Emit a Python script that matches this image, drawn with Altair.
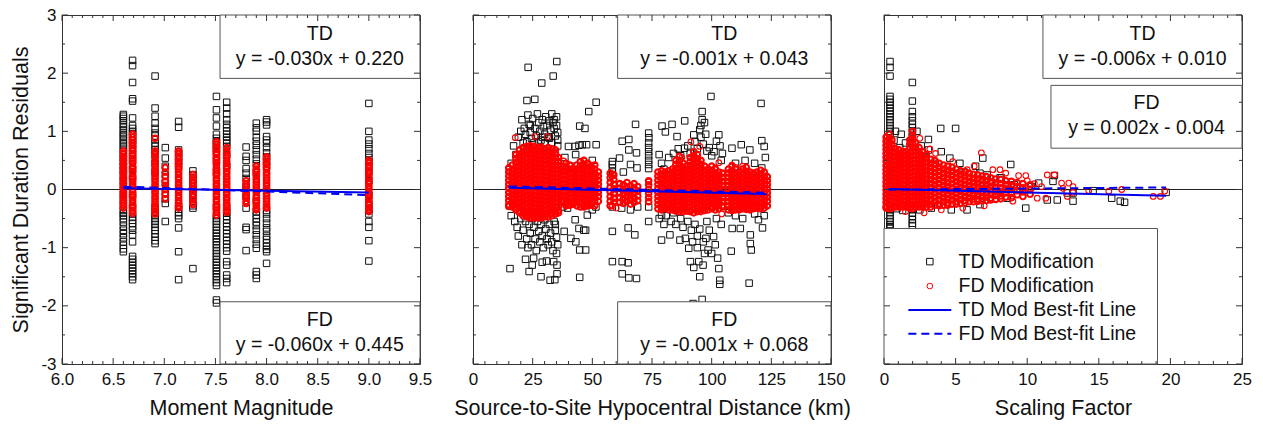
import altair as alt
import pandas as pd

FONT = "Liberation Sans"
W, H = 358, 349

# ---------------- Panel 1: Moment Magnitude ----------------
MAG_COLS = [6.60, 6.69, 6.91, 7.01, 7.14, 7.28, 7.51, 7.61, 7.80, 7.90, 8.00, 9.00]
MAG_TD_Y = [
    "1.29 1.26 1.22 1.18 1.12 1.08 1.03 0.98 0.94 0.90 0.85 0.80 0.76 0.71 0.66 0.60 0.54 0.47 0.40 0.33 0.25 0.15 0.05 -0.08 -0.18 -0.28 -0.36 -0.41 -0.45 -0.50 -0.56 -0.63 -0.70 -0.76 -0.83 -0.90 -0.96 -1.02 -1.07",
    "2.22 2.13 1.84 1.56 1.52 1.23 1.10 1.05 1.00 0.96 0.90 0.84 0.78 0.70 0.60 0.50 0.35 0.20 -0.10 -0.30 -0.42 -0.48 -0.53 -0.58 -0.64 -0.70 -0.78 -0.90 -1.15 -1.20 -1.25 -1.30 -1.35 -1.40 -1.45 -1.50 -1.55",
    "1.95 1.40 1.26 1.14 1.05 0.97 0.92 0.86 0.80 0.74 0.68 0.60 0.45 0.30 -0.30 -0.40 -0.45 -0.50 -0.55 -0.60 -0.65 -0.70 -0.76 -0.82 -0.88 -0.93",
    "0.72 0.54 0.40 0.25 0.12 -0.05 -0.16 -0.24 -0.55",
    "1.17 1.07 0.68 0.62 0.55 0.48 0.40 -0.28 -0.34 -0.40 -0.45 -0.50 -0.66 -1.07 -1.55",
    "0.32 0.25 0.18 0.10 0.00 -0.10 -0.20 -0.28 -0.32 -1.36",
    "1.60 1.37 1.23 1.09 0.95 0.88 0.82 0.76 0.70 0.62 0.50 0.30 -0.30 -0.45 -0.50 -0.55 -0.60 -0.65 -0.70 -0.75 -0.80 -0.85 -0.90 -0.95 -1.00 -1.05 -1.10 -1.15 -1.20 -1.25 -1.30 -1.35 -1.40 -1.45 -1.50 -1.55 -1.60 -1.65 -1.90 -1.95",
    "1.50 1.40 1.30 1.20 1.12 1.06 1.00 0.95 0.90 0.85 0.80 0.74 0.60 0.40 -0.30 -0.40 -0.46 -0.52 -0.58 -0.64 -0.70 -0.76 -0.82 -0.88 -0.94 -1.00 -1.06 -1.24 -1.30 -1.47 -1.53 -1.60",
    "0.73 0.57 0.50 0.36 0.28 0.19 0.05 -0.12 -0.32 -0.65 -0.69 -1.05",
    "1.14 1.06 1.00 0.90 0.83 0.76 0.68 0.60 0.52 0.44 0.30 -0.20 -0.38 -0.44 -0.50 -0.56 -0.62 -0.70 -0.78 -0.86 -0.94 -1.01 -1.41 -1.47 -1.53",
    "1.20 1.16 1.11 0.91 0.85 0.80 0.72 0.63 0.56 0.48 0.40 -0.36 -0.42 -0.50 -0.58 -0.66 -0.72 -0.80 -0.86 -0.92 -0.98 -1.03 -1.07 -1.27",
    "1.48 1.00 0.85 0.78 0.70 0.62 0.55 0.48 0.40 0.30 0.15 -0.10 -0.25 -0.35 -0.42 -0.55 -0.65 -0.88 -1.23",
]
MAG_FD_Y = [
    "0.66 0.62 0.57 0.54 0.50 0.45 0.42 0.38 0.33 0.30 0.26 0.21 0.18 0.14 0.10 0.06 0.02 -0.02 -0.06 -0.10 -0.14 -0.19 -0.23 -0.27 -0.32",
    "0.95 0.90 0.85 0.80 0.76 0.71 0.67 0.62 0.58 0.53 0.49 0.45 0.40 0.36 0.31 0.27 0.22 0.18 0.13 0.09 0.05 0.00 -0.04 -0.09 -0.13 -0.18 -0.22 -0.27 -0.31 -0.36 -0.41",
    "0.88 0.66 0.62 0.57 0.53 0.48 0.44 0.40 0.35 0.31 0.27 0.22 0.18 0.14 0.09 0.05 0.01 -0.03 -0.07 -0.12 -0.16 -0.20 -0.25 -0.29 -0.33 -0.38 -0.42",
    "0.38 0.30 0.22 0.14 0.07 0.00 -0.08 -0.16",
    "0.66 0.62 0.57 0.53 0.48 0.44 0.39 0.35 0.30 0.26 0.21 0.17 0.12 0.08 0.04 -0.01 -0.05 -0.10 -0.14 -0.19 -0.23 -0.28 -0.32",
    "0.26 0.21 0.16 0.11 0.06 0.02 -0.03 -0.08 -0.13 -0.18 -0.23 -0.26",
    "0.82 0.78 0.73 0.69 0.64 0.60 0.55 0.51 0.46 0.42 0.37 0.33 0.28 0.24 0.19 0.15 0.10 0.06 0.01 -0.03 -0.08 -0.12 -0.17 -0.21 -0.26 -0.30 -0.35 -0.39 -0.44",
    "0.72 0.67 0.63 0.58 0.54 0.49 0.45 0.40 0.36 0.31 0.27 0.22 0.18 0.13 0.09 0.04 0.00 -0.05 -0.09 -0.14 -0.18 -0.23 -0.27 -0.32 -0.36 -0.39",
    "0.15 0.10 0.05 0.00 -0.05 -0.10 -0.15 -0.20 -0.24",
    "0.40 0.35 0.31 0.26 0.22 0.17 0.13 0.08 0.04 -0.01 -0.05 -0.10 -0.14 -0.19 -0.23 -0.28 -0.32 -0.35",
    "0.56 0.52 0.47 0.43 0.38 0.34 0.29 0.25 0.20 0.16 0.11 0.07 0.02 -0.02 -0.07 -0.11 -0.16 -0.20 -0.25 -0.29 -0.32",
    "0.50 0.46 0.41 0.37 0.32 0.28 0.23 0.19 0.14 0.10 0.05 0.01 -0.04 -0.08 -0.13 -0.17 -0.22 -0.26 -0.31 -0.35 -0.38",
]
MAG_FIT_X = [6.6, 9.0]
MAG_FIT_TD = [0.022, -0.050]
MAG_FIT_FD = [0.049, -0.095]

# ---------------- Panel 2: Hypocentral distance ----------------
DIST_TD = [
    (23.1, 2.10), (35.1, 2.20), (28.8, 1.83), (33.6, 1.95), (22.6, 1.53), (25.9, 1.55),
    (20.5, 1.20), (21.5, 1.05), (22.0, 0.95), (23.0, 1.28), (23.5, 1.12), (24.0, 0.98), (24.5, 0.88),
    (25.0, 1.22), (26.0, 1.05), (26.5, 0.92), (27.0, 1.30), (27.5, 1.15), (28.0, 1.00), (28.5, 0.85),
    (29.0, 1.20), (29.5, 1.08), (30.0, 0.95), (30.5, 1.25), (31.0, 1.10), (31.5, 0.90), (32.0, 1.18),
    (32.5, 1.02), (33.0, 1.30), (33.5, 1.15), (34.0, 1.05), (34.5, 0.92), (35.0, 1.25), (35.0, 1.10),
    (35.5, 0.98), (35.5, 0.85), (19.0, 0.90), (18.0, 0.60), (17.0, 0.75), (16.0, 0.45), (15.5, 0.34),
    (21.0, 0.80), (22.5, 0.82), (25.5, 0.80), (27.5, 0.82), (30.0, 0.80), (33.0, 0.80), (35.5, 0.75),
    (20.0, 1.00), (24.0, 1.10), (29.0, 0.90), (32.0, 0.88), (34.0, 1.20),
    (15.3, -0.28), (16.0, -0.45), (17.5, -0.55), (18.5, -0.65), (19.0, -0.80), (20.0, -0.50),
    (20.5, -0.95), (21.0, -0.70), (22.0, -0.55), (22.5, -0.85), (23.0, -1.00), (23.5, -0.60),
    (24.0, -0.75), (24.5, -0.95), (25.0, -0.50), (25.5, -0.65), (26.0, -0.85), (26.5, -1.05),
    (27.0, -0.55), (27.5, -0.72), (28.0, -0.90), (28.5, -0.60), (29.0, -0.80), (29.5, -1.00),
    (30.0, -0.52), (30.5, -0.68), (31.0, -0.85), (31.5, -0.95), (32.0, -0.60), (32.5, -0.75),
    (33.0, -0.90), (33.5, -1.05), (34.0, -0.55), (34.5, -0.70), (35.0, -0.82), (35.5, -0.95),
    (35.0, -1.10), (34.5, -0.60),
    (15.5, -1.36), (23.5, -1.41), (28.5, -1.50), (32.3, -1.56), (34.3, -1.55), (30.8, -1.23),
    (33.8, -1.24), (25.4, -1.18), (24.8, -1.30), (35.2, -1.30), (35.2, -1.45), (22.0, -1.20), (29.0, -1.25),
    (40.0, 0.74), (42.8, 0.74), (44.7, 1.09), (46.9, 1.05), (48.5, 1.34), (51.6, 1.50), (44.4, 0.76),
    (47.6, 0.77), (51.6, 0.77), (45.8, 0.77), (41.0, 0.40), (38.5, 0.55), (39.0, 0.35), (43.0, 0.60),
    (50.0, 0.50), (37.5, -0.30), (38.2, -0.72), (41.0, -0.84), (43.1, -0.90), (44.7, -1.04),
    (47.2, -1.04), (44.7, -1.51), (47.2, -0.70), (42.8, -0.52), (39.6, -0.32), (44.4, -0.67),
    (46.4, -0.70), (47.9, -0.44), (50.0, -0.35), (51.5, -0.30),
    (58.4, 0.48), (58.4, 0.43), (58.4, 0.37), (58.4, 0.30), (58.4, 0.25), (58.4, -0.30), (58.4, -0.72), (58.4, -1.24),
    (62.5, 0.83), (65.3, 0.86), (65.3, 0.68), (68.5, 0.63), (61.4, 0.54), (66.0, 0.43), (68.7, 0.37),
    (62.3, -0.32), (65.0, -0.66), (67.8, -0.78), (62.5, -1.24), (65.0, -1.26), (62.5, -1.45),
    (65.3, -1.52), (68.5, -1.53), (68.1, 1.12), (63.0, 0.30), (66.0, -0.35), (69.0, -0.30),
    (73.6, 0.97), (73.6, 0.80), (73.6, 0.72), (73.6, 0.65), (73.6, 0.58), (73.6, 0.50), (73.6, 0.43),
    (73.6, 0.36), (73.6, -0.30), (73.6, -0.55), (73.7, 0.89),
    (79.2, 1.09), (83.4, 1.12), (88.7, 1.18), (96.0, 1.34), (99.7, 1.60), (85.5, 0.91), (80.6, 0.99),
    (88.6, 0.71), (92.5, 0.94), (95.0, 1.03), (98.0, 0.66), (102.0, 0.83), (103.0, 0.94), (78.0, 0.60),
    (79.0, 0.45), (80.0, 0.35), (82.0, 0.55), (84.0, 0.62), (86.0, 0.70), (87.0, 0.58), (90.0, 0.75),
    (91.0, 0.62), (93.0, 0.82), (94.0, 0.70), (95.5, 0.90), (96.5, 0.78), (97.0, 1.15), (97.5, 0.95),
    (99.0, 0.72), (100.0, 0.58), (101.0, 0.65), (104.0, 0.50), (104.5, 0.62), (103.5, 0.75), (96.0, 1.20),
    (95.5, 1.10),
    (79.0, -0.44), (79.0, -0.87), (82.5, -0.78), (86.7, -0.87), (89.0, -0.84), (90.4, -1.01),
    (91.1, -1.24), (92.5, -1.34), (94.6, -1.24), (96.4, -1.30), (95.0, -1.50), (96.0, -1.89),
    (92.2, -1.96), (100.8, -0.81), (101.5, -0.95), (102.5, -1.18), (103.0, -1.36), (103.4, -1.56),
    (103.4, -1.63), (98.5, -1.04), (97.6, -0.84), (78.0, -0.50), (80.0, -0.60), (81.0, -0.45),
    (83.0, -0.55), (84.0, -0.40), (85.0, -0.60), (87.0, -0.50), (88.0, -0.65), (90.0, -0.55),
    (91.5, -0.70), (93.0, -0.60), (94.0, -0.80), (95.0, -0.68), (96.5, -0.90), (98.0, -0.55),
    (99.0, -0.70), (102.0, -0.50), (104.0, -0.60), (94.0, -1.00), (100.0, -1.10), (92.0, -0.90), (97.0, -1.10),
    (108.5, 0.71), (112.4, 0.77), (116.0, 0.68), (121.0, 0.84), (122.0, 0.74), (121.0, 0.37),
    (120.7, 1.48), (110.0, 0.45), (114.0, 0.50), (118.0, 0.45), (122.5, 0.55), (108.2, -1.06),
    (112.0, -0.67), (116.6, -1.04), (116.2, -0.93), (115.7, -1.61), (121.3, -0.66), (119.6, -0.52),
    (108.6, -0.67), (116.2, -0.78), (110.0, -0.45), (113.0, -0.50), (118.0, -0.42), (122.0, -0.45), (107.0, -0.40),
]
DIST_FD_COLS = [15.0, 16.5, 18.0, 19.5, 21.0, 22.5, 24.0, 25.5, 27.0, 28.5, 30.0, 31.5, 33.0, 34.5, 35.8,
                37.5, 39.0, 40.5, 42.0, 43.5, 45.0, 46.5, 48.0, 49.5, 51.0, 52.5,
                57.5, 59.0, 61.5, 63.0, 64.5, 66.0, 67.5, 69.0, 73.6,
                77.5, 79.0, 80.5, 82.0, 83.5, 85.0, 86.5, 88.0, 89.5, 91.0, 92.5, 94.0, 95.5, 97.0,
                98.5, 100.0, 101.5, 103.0, 104.5,
                107.0, 108.5, 110.0, 111.5, 113.0, 114.5, 116.0, 117.5, 119.0, 120.5, 122.0, 123.3]
DIST_FD_Y = [
    "0.37 0.30 0.23 0.16 0.09 0.02 -0.05 -0.12 -0.19 -0.26 -0.29",
    "0.42 0.34 0.27 0.20 0.13 0.06 -0.01 -0.08 -0.15 -0.22 -0.30",
    "0.60 0.53 0.46 0.39 0.32 0.25 0.18 0.11 0.04 -0.03 -0.10 -0.17 -0.24 -0.31 -0.35",
    "0.68 0.61 0.54 0.47 0.40 0.33 0.26 0.19 0.12 0.05 -0.02 -0.09 -0.16 -0.23 -0.30 -0.37 -0.40",
    "0.72 0.65 0.58 0.50 0.43 0.36 0.29 0.22 0.15 0.08 0.01 -0.06 -0.13 -0.20 -0.27 -0.34 -0.41 -0.45",
    "0.74 0.67 0.60 0.53 0.46 0.39 0.32 0.25 0.18 0.11 0.04 -0.03 -0.10 -0.17 -0.24 -0.31 -0.38 -0.44 -0.47",
    "0.75 0.69 0.62 0.55 0.48 0.41 0.34 0.27 0.20 0.13 0.06 -0.01 -0.08 -0.15 -0.22 -0.29 -0.36 -0.43 -0.49",
    "0.74 0.67 0.60 0.53 0.46 0.39 0.32 0.25 0.18 0.11 0.04 -0.03 -0.10 -0.17 -0.24 -0.31 -0.38 -0.45 -0.49",
    "0.72 0.66 0.59 0.52 0.45 0.38 0.31 0.24 0.17 0.10 0.03 -0.04 -0.11 -0.18 -0.25 -0.32 -0.39 -0.45 -0.48",
    "0.73 0.66 0.59 0.52 0.45 0.38 0.31 0.24 0.17 0.10 0.03 -0.04 -0.11 -0.18 -0.25 -0.32 -0.39 -0.46 -0.49",
    "0.70 0.64 0.57 0.50 0.43 0.36 0.29 0.22 0.15 0.08 0.01 -0.06 -0.13 -0.20 -0.27 -0.34 -0.41 -0.47",
    "0.72 0.65 0.58 0.51 0.44 0.37 0.30 0.23 0.16 0.09 0.02 -0.05 -0.12 -0.19 -0.26 -0.33 -0.40 -0.47",
    "0.70 0.63 0.56 0.49 0.42 0.35 0.28 0.21 0.14 0.07 0.00 -0.07 -0.14 -0.21 -0.28 -0.35 -0.41 -0.45",
    "0.68 0.62 0.55 0.48 0.41 0.34 0.27 0.20 0.13 0.06 -0.01 -0.08 -0.15 -0.22 -0.29 -0.36 -0.42",
    "0.55 0.48 0.41 0.34 0.27 0.20 0.13 0.06 -0.01 -0.08 -0.15 -0.22 -0.29 -0.36 -0.40",
    "0.38 0.31 0.24 0.17 0.10 0.03 -0.04 -0.11 -0.18 -0.22",
    "0.45 0.38 0.31 0.24 0.17 0.10 0.03 -0.04 -0.11 -0.18 -0.25 -0.28",
    "0.42 0.35 0.28 0.21 0.14 0.07 0.00 -0.07 -0.14 -0.21 -0.27",
    "0.35 0.28 0.21 0.14 0.07 0.00 -0.07 -0.14 -0.21 -0.25",
    "0.42 0.35 0.28 0.21 0.14 0.07 0.00 -0.07 -0.14 -0.21 -0.28",
    "0.48 0.41 0.34 0.27 0.20 0.13 0.06 -0.01 -0.08 -0.15 -0.22 -0.30",
    "0.50 0.43 0.36 0.29 0.22 0.15 0.08 0.01 -0.06 -0.13 -0.20 -0.27 -0.30",
    "0.45 0.38 0.31 0.24 0.17 0.10 0.03 -0.04 -0.11 -0.18 -0.25 -0.28",
    "0.40 0.33 0.26 0.19 0.12 0.05 -0.02 -0.09 -0.16 -0.23 -0.27",
    "0.42 0.35 0.28 0.21 0.14 0.07 0.00 -0.07 -0.14 -0.21 -0.28",
    "0.30 0.23 0.16 0.09 0.02 -0.05 -0.12 -0.20",
    "0.28 0.20 0.12 0.04 -0.04 -0.12 -0.20 -0.28",
    "0.25 0.17 0.09 0.01 -0.07 -0.15 -0.22",
    "0.10 0.02 -0.06 -0.14 -0.22",
    "0.08 0.00 -0.08 -0.16 -0.24",
    "0.12 0.04 -0.04 -0.12 -0.20",
    "0.06 -0.02 -0.10 -0.18 -0.25",
    "0.10 0.02 -0.06 -0.14 -0.22",
    "0.05 -0.03 -0.11 -0.19",
    "0.15 0.08 0.00 -0.07 -0.14 -0.21",
    "0.30 0.23 0.16 0.09 0.02 -0.05 -0.12 -0.19 -0.26 -0.33",
    "0.32 0.25 0.18 0.11 0.04 -0.03 -0.10 -0.17 -0.24 -0.31 -0.35",
    "0.30 0.23 0.16 0.09 0.02 -0.05 -0.12 -0.19 -0.26 -0.33",
    "0.32 0.25 0.18 0.11 0.04 -0.03 -0.10 -0.17 -0.24 -0.31 -0.35",
    "0.35 0.28 0.21 0.14 0.07 0.00 -0.07 -0.14 -0.21 -0.28 -0.35",
    "0.50 0.43 0.36 0.29 0.22 0.15 0.08 0.01 -0.06 -0.13 -0.20 -0.27 -0.34 -0.37",
    "0.57 0.50 0.43 0.36 0.29 0.22 0.15 0.08 0.01 -0.06 -0.13 -0.20 -0.27 -0.34 -0.38",
    "0.45 0.38 0.31 0.24 0.17 0.10 0.03 -0.04 -0.11 -0.18 -0.25 -0.32 -0.38",
    "0.40 0.33 0.26 0.19 0.12 0.05 -0.02 -0.09 -0.16 -0.23 -0.30 -0.37",
    "0.55 0.48 0.41 0.34 0.27 0.20 0.13 0.06 -0.01 -0.08 -0.15 -0.22 -0.29 -0.36 -0.38",
    "0.65 0.58 0.51 0.44 0.37 0.30 0.23 0.16 0.09 0.02 -0.05 -0.12 -0.19 -0.26 -0.33 -0.40",
    "0.60 0.53 0.46 0.39 0.32 0.25 0.18 0.11 0.04 -0.03 -0.10 -0.17 -0.24 -0.31 -0.38",
    "0.50 0.43 0.36 0.29 0.22 0.15 0.08 0.01 -0.06 -0.13 -0.20 -0.27 -0.34 -0.38",
    "0.40 0.33 0.26 0.19 0.12 0.05 -0.02 -0.09 -0.16 -0.23 -0.30 -0.36",
    "0.35 0.28 0.21 0.14 0.07 0.00 -0.07 -0.14 -0.21 -0.28 -0.35",
    "0.40 0.33 0.26 0.19 0.12 0.05 -0.02 -0.09 -0.16 -0.23 -0.30 -0.33",
    "0.35 0.28 0.21 0.14 0.07 0.00 -0.07 -0.14 -0.21 -0.28 -0.35",
    "0.30 0.23 0.16 0.09 0.02 -0.05 -0.12 -0.19 -0.26 -0.33",
    "0.28 0.21 0.14 0.07 0.00 -0.07 -0.14 -0.21 -0.28 -0.30",
    "0.35 0.28 0.21 0.14 0.07 0.00 -0.07 -0.14 -0.21 -0.28 -0.35",
    "0.40 0.33 0.26 0.19 0.12 0.05 -0.02 -0.09 -0.16 -0.23 -0.30 -0.36",
    "0.35 0.28 0.21 0.14 0.07 0.00 -0.07 -0.14 -0.21 -0.28 -0.35",
    "0.30 0.23 0.16 0.09 0.02 -0.05 -0.12 -0.19 -0.26 -0.33 -0.35",
    "0.35 0.28 0.21 0.14 0.07 0.00 -0.07 -0.14 -0.21 -0.28 -0.33",
    "0.38 0.31 0.24 0.17 0.10 0.03 -0.04 -0.11 -0.18 -0.25 -0.32 -0.34",
    "0.30 0.23 0.16 0.09 0.02 -0.05 -0.12 -0.19 -0.26 -0.33 -0.35",
    "0.28 0.21 0.14 0.07 0.00 -0.07 -0.14 -0.21 -0.28 -0.33",
    "0.30 0.23 0.16 0.09 0.02 -0.05 -0.12 -0.19 -0.26 -0.32",
    "0.33 0.26 0.19 0.12 0.05 -0.02 -0.09 -0.16 -0.23 -0.30 -0.33",
    "0.30 0.23 0.16 0.09 0.02 -0.05 -0.12 -0.19 -0.26 -0.32",
    "0.22 0.15 0.08 0.01 -0.06 -0.13 -0.20 -0.28",
]
DIST_FD_EXTRA = [(17.7, 0.89), (26.0, 0.91), (31.2, 0.91), (38.0, 0.49), (48.5, 0.43), (58.5, -0.28),
                 (58.5, 0.25), (65.3, -0.06), (73.6, 0.13), (95.0, 0.74), (87.5, 0.55), (103.0, 0.46),
                 (104.2, -0.42), (108.5, 0.42), (110.0, 0.38), (91.3, 0.82), (101.5, 0.37), (113.0, 0.40),
                 (60.0, -0.32)]
DIST_FIT_X = [15, 123]
DIST_FIT_TD = [0.028, -0.080]
DIST_FIT_FD = [0.053, -0.055]

# ---------------- Panel 3: Scaling factor ----------------
SF_TD_COLS = [0.42, 1.98]
SF_TD_COL_Y = [
    "2.20 2.10 1.95 1.60 1.55 1.50 1.45 1.40 1.35 1.30 1.25 1.20 1.15 1.10 1.05 1.00 0.95 -0.35 -0.40 -0.45 -0.50 -0.55 -0.60 -0.64 -0.67",
    "1.84 1.52 1.34 1.25 1.18 1.12 1.06 0.98 0.91 -0.34 -0.40 -0.46 -0.52 -0.58 -0.62",
]
SF_TD = [(0.8, 1.00), (1.1, 0.72), (3.1, 0.86), (3.1, 0.68), (4.0, 0.65), (3.96, 1.05), (5.0, 1.05),
         (4.6, 0.54), (5.3, 0.45), (6.4, 0.40), (6.9, 0.54), (6.7, 0.28), (7.2, 0.25), (8.1, 0.20),
         (8.85, 0.43), (8.6, 0.08), (9.9, -0.32), (2.5, -0.35), (3.3, -0.32), (4.7, -0.35), (5.8, -0.35),
         (6.7, -0.26), (8.2, 0.20), (9.1, 0.08), (10.8, 0.11), (11.8, 0.14), (11.9, 0.24), (12.8, -0.06),
         (13.2, -0.06), (13.2, -0.20), (11.4, -0.18), (12.1, -0.18), (14.6, -0.02), (15.9, -0.15),
         (16.5, -0.20), (16.8, -0.22), (19.7, -0.05), (8.6, -0.15), (7.8, -0.15), (9.5, 0.02),
         (1.5, 0.80), (2.6, 0.75), (1.3, -0.36), (0.9, -0.33), (2.9, 0.55), (3.6, 0.45), (5.6, 0.30),
         (7.5, 0.12), (10.3, 0.05), (1.2, 0.95), (0.7, 0.85), (2.3, 1.00)]
SF_FD_COLS = [0.15, 0.35, 0.55, 0.80, 1.05, 1.30, 1.55, 1.80, 2.00, 2.20, 2.45, 2.70, 2.95, 3.25, 3.55,
              3.85, 4.15, 4.45, 4.75, 5.05, 5.35, 5.65, 5.95, 6.25, 6.55, 6.85, 7.15, 7.45, 7.80, 8.15,
              8.50, 8.90, 9.30, 9.70, 10.20]
SF_FD_Y = [
    "0.90 0.83 0.76 0.69 0.62 0.55 0.48 0.41 0.34 0.27 0.20 0.13 0.06 -0.01 -0.08 -0.15 -0.22 -0.29 -0.32",
    "0.95 0.87 0.80 0.73 0.66 0.59 0.52 0.45 0.38 0.31 0.24 0.17 0.10 0.03 -0.04 -0.11 -0.18 -0.25 -0.33",
    "0.85 0.78 0.71 0.64 0.57 0.50 0.43 0.36 0.29 0.22 0.15 0.08 0.01 -0.06 -0.13 -0.20 -0.27 -0.32",
    "0.70 0.63 0.56 0.49 0.42 0.35 0.28 0.21 0.14 0.07 0.00 -0.07 -0.14 -0.21 -0.28 -0.30",
    "0.68 0.61 0.54 0.47 0.40 0.33 0.26 0.19 0.12 0.05 -0.02 -0.09 -0.16 -0.23 -0.30",
    "0.65 0.58 0.51 0.44 0.37 0.30 0.23 0.16 0.09 0.02 -0.05 -0.12 -0.19 -0.26 -0.30",
    "0.65 0.58 0.51 0.44 0.37 0.30 0.23 0.16 0.09 0.02 -0.05 -0.12 -0.19 -0.26 -0.30",
    "0.85 0.78 0.71 0.64 0.57 0.50 0.43 0.36 0.29 0.22 0.15 0.08 0.01 -0.06 -0.13 -0.20 -0.27 -0.32",
    "1.00 0.93 0.86 0.79 0.72 0.65 0.58 0.51 0.44 0.37 0.30 0.23 0.16 0.09 0.02 -0.05 -0.12 -0.19 -0.26 -0.33",
    "0.80 0.73 0.66 0.59 0.52 0.45 0.38 0.31 0.24 0.17 0.10 0.03 -0.04 -0.11 -0.18 -0.25 -0.30",
    "0.72 0.65 0.58 0.51 0.44 0.37 0.30 0.23 0.16 0.09 0.02 -0.05 -0.12 -0.19 -0.26 -0.30",
    "0.65 0.58 0.51 0.44 0.37 0.30 0.23 0.16 0.09 0.02 -0.05 -0.12 -0.19 -0.26 -0.30",
    "0.60 0.53 0.46 0.39 0.32 0.25 0.18 0.11 0.04 -0.03 -0.10 -0.17 -0.24 -0.30",
    "0.52 0.45 0.38 0.31 0.24 0.17 0.10 0.03 -0.04 -0.11 -0.18 -0.25 -0.30",
    "0.50 0.43 0.36 0.29 0.22 0.15 0.08 0.01 -0.06 -0.13 -0.20 -0.27",
    "0.45 0.38 0.31 0.24 0.17 0.10 0.03 -0.04 -0.11 -0.18 -0.25 -0.28",
    "0.42 0.35 0.28 0.21 0.14 0.07 0.00 -0.07 -0.14 -0.21 -0.27",
    "0.40 0.33 0.26 0.19 0.12 0.05 -0.02 -0.09 -0.16 -0.23 -0.27",
    "0.38 0.31 0.24 0.17 0.10 0.03 -0.04 -0.11 -0.18 -0.25",
    "0.35 0.28 0.21 0.14 0.07 0.00 -0.07 -0.14 -0.21 -0.25",
    "0.32 0.25 0.18 0.11 0.04 -0.03 -0.10 -0.17 -0.24",
    "0.30 0.23 0.16 0.09 0.02 -0.05 -0.12 -0.19 -0.23",
    "0.28 0.21 0.14 0.07 0.00 -0.07 -0.14 -0.21",
    "0.26 0.19 0.12 0.05 -0.02 -0.09 -0.16 -0.21",
    "0.25 0.18 0.11 0.04 -0.03 -0.10 -0.17 -0.20",
    "0.23 0.16 0.09 0.02 -0.05 -0.12 -0.19",
    "0.22 0.15 0.08 0.01 -0.06 -0.13 -0.19",
    "0.20 0.13 0.06 -0.01 -0.08 -0.15 -0.18",
    "0.18 0.11 0.04 -0.03 -0.10 -0.17",
    "0.17 0.10 0.03 -0.04 -0.11 -0.16",
    "0.15 0.08 0.01 -0.06 -0.13",
    "0.14 0.07 0.00 -0.07 -0.14",
    "0.12 0.05 -0.02 -0.09",
    "0.10 0.03 -0.04 -0.12",
    "0.08 0.00 -0.08",
]
SF_FD_EXTRA = [(6.8, 0.63), (8.1, 0.34), (9.9, 0.24), (11.9, 0.25), (12.9, 0.11), (16.6, 0.00),
               (19.3, -0.12), (19.6, -0.03), (15.7, -0.03), (10.7, -0.15), (11.3, -0.15), (12.5, 0.02),
               (12.8, -0.12), (2.5, 0.88), (4.8, 0.48), (5.8, 0.34), (3.2, 0.70), (3.6, 0.62), (7.6, 0.34),
               (9.4, 0.24), (11.4, 0.25), (12.4, 0.11), (13.2, -0.05), (14.3, -0.02), (10.5, 0.10),
               (11.0, 0.05), (9.0, -0.20), (7.0, -0.28), (5.5, -0.32), (4.0, -0.35), (6.3, 0.40),
               (8.5, 0.28), (10.0, 0.15), (13.2, 0.05), (18.8, -0.12), (2.8, -0.40), (1.5, -0.38)]
SF_FIT_X = [0.3, 19.7]
SF_FIT_TD = [0.008, -0.108]
SF_FIT_FD = [-0.003, 0.035]

# ---------------- Annotations ----------------
Y_MAJOR = [-3, -2, -1, 0, 1, 2, 3]
Y_MINOR = [-2.5, -1.5, -0.5, 0.5, 1.5, 2.5]
MAG_MAJOR = [6.0, 6.5, 7.0, 7.5, 8.0, 8.5, 9.0, 9.5]
DIST_MAJOR = [0, 25, 50, 75, 100, 125, 150]
SF_MAJOR = [0, 5, 10, 15, 20, 25]

LEG_LABELS = ["TD Modification", "FD Modification", "TD Mod Best-fit Line", "FD Mod Best-fit Line"]
LEG_Y = [-1.24, -1.66, -2.07, -2.48]


def cols_df(cols, ystrs):
    rows = []
    for cx, s in zip(cols, ystrs):
        for v in s.split():
            rows.append({"x": cx, "y": float(v)})
    return pd.DataFrame(rows)


def pairs_df(pairs):
    return pd.DataFrame({"x": [p[0] for p in pairs], "y": [p[1] for p in pairs]})


def panel(xdom, xmajor, xminor, xfmt, xtitle, td, fd_dense, fd_sparse, fitx, fit_td, fit_fd, boxes, texts,
          show_y=False, legend=False):
    X = alt.X("x:Q", scale=alt.Scale(domain=xdom, nice=False, zero=False),
              axis=alt.Axis(values=xmajor, format=xfmt, title=xtitle, ticks=False, domain=False,
                            grid=False, labelFont=FONT, labelFontSize=17, labelColor="#111",
                            labelPadding=7, labelFlush=False, labelOverlap=False,
                            titleFont=FONT, titleFontSize=21.5, titleFontWeight="normal",
                            titleColor="#111", titlePadding=10))
    if show_y:
        yaxis = alt.Axis(values=Y_MAJOR, labelExpr="datum.value + ''", title="Significant Duration Residuals",
                         ticks=False, domain=False, grid=False, labelFont=FONT, labelFontSize=17,
                         labelColor="#111", labelPadding=6, labelFlush=False,
                         titleFont=FONT, titleFontSize=21.5, titleFontWeight="normal",
                         titleColor="#111", titlePadding=8)
    else:
        yaxis = None
    Y = alt.Y("y:Q", scale=alt.Scale(domain=[-3, 3], nice=False, zero=False), axis=yaxis)

    layers = []
    zero = alt.Chart(pd.DataFrame({"y": [0]})).mark_rule(color="#222", strokeWidth=1).encode(y=Y)
    layers.append(zero)
    layers.append(alt.Chart(td).mark_point(shape="square", filled=False, size=42, strokeWidth=1,
                                           color="#111", opacity=1).encode(x=X, y=Y))
    layers.append(alt.Chart(fd_dense).mark_point(shape="circle", filled=False, size=32, strokeWidth=2.1,
                                                 color="#ff0000", opacity=1).encode(x=X, y=Y))
    if fd_sparse is not None:
        layers.append(alt.Chart(fd_sparse).mark_point(shape="circle", filled=False, size=32, strokeWidth=1.1,
                                                      color="#ff0000", opacity=1).encode(x=X, y=Y))
    layers.append(alt.Chart(pd.DataFrame({"x": fitx, "y": fit_td})).mark_line(
        color="#0000ee", strokeWidth=2).encode(x=X, y=Y))
    layers.append(alt.Chart(pd.DataFrame({"x": fitx, "y": fit_fd})).mark_line(
        color="#0000ee", strokeWidth=2, strokeDash=[8, 5]).encode(x=X, y=Y))
    layers.append(alt.Chart(boxes).mark_rect(fill="white", stroke="#555", strokeWidth=1).encode(
        x=X, x2="x2:Q", y=Y, y2="y2:Q"))
    layers.append(alt.Chart(texts).mark_text(font=FONT, fontSize=19.5, color="#111", align="center",
                                             baseline="middle").encode(x=X, y=Y, text="t:N"))
    if legend:
        leg_sq = pd.DataFrame({"x": [3.2], "y": [LEG_Y[0]]})
        leg_ci = pd.DataFrame({"x": [3.2], "y": [LEG_Y[1]]})
        leg_l1 = pd.DataFrame({"x": [1.7, 4.7], "y": [LEG_Y[2], LEG_Y[2]]})
        leg_l2 = pd.DataFrame({"x": [1.7, 4.7], "y": [LEG_Y[3], LEG_Y[3]]})
        leg_tx = pd.DataFrame({"x": [5.2] * 4, "y": LEG_Y, "t": LEG_LABELS})
        layers.append(alt.Chart(leg_sq).mark_point(shape="square", filled=False, size=42, strokeWidth=1,
                                                   color="#111", opacity=1).encode(x=X, y=Y))
        layers.append(alt.Chart(leg_ci).mark_point(shape="circle", filled=False, size=32, strokeWidth=1,
                                                   color="#ff0000", opacity=1).encode(x=X, y=Y))
        layers.append(alt.Chart(leg_l1).mark_line(color="#0000ee", strokeWidth=2).encode(x=X, y=Y))
        layers.append(alt.Chart(leg_l2).mark_line(color="#0000ee", strokeWidth=2,
                                                  strokeDash=[8, 5]).encode(x=X, y=Y))
        layers.append(alt.Chart(leg_tx).mark_text(font=FONT, fontSize=19.5, color="#111", align="left",
                                                  baseline="middle").encode(x=X, y=Y, text="t:N"))
    # inward ticks
    ymaj = pd.DataFrame({"y": Y_MAJOR})
    ymin = pd.DataFrame({"y": Y_MINOR})
    xmaj = pd.DataFrame({"x": xmajor})
    xmin = pd.DataFrame({"x": xminor})
    tc = "#333"
    for df, L in ((ymaj, 6), (ymin, 3)):
        layers.append(alt.Chart(df).mark_rule(color=tc).encode(y=Y, x=alt.value(0), x2=alt.value(L)))
        layers.append(alt.Chart(df).mark_rule(color=tc).encode(y=Y, x=alt.value(W), x2=alt.value(W - L)))
    for df, L in ((xmaj, 6), (xmin, 3)):
        layers.append(alt.Chart(df).mark_rule(color=tc).encode(x=X, y=alt.value(0), y2=alt.value(L)))
        layers.append(alt.Chart(df).mark_rule(color=tc).encode(x=X, y=alt.value(H), y2=alt.value(H - L)))
    return alt.layer(*layers).properties(width=W, height=H)


def box_df(b):
    return pd.DataFrame({"x": [r[0] for r in b], "x2": [r[1] for r in b],
                         "y": [r[2] for r in b], "y2": [r[3] for r in b]})


def text_df(t):
    return pd.DataFrame({"t": [r[0] for r in t], "x": [r[1] for r in t], "y": [r[2] for r in t]})


mag_minor = [round(6.0 + 0.1 * i, 1) for i in range(36) if i % 5 != 0]
dist_minor = [5 * i for i in range(31) if i % 5 != 0]
sf_minor = [i for i in range(26) if i % 5 != 0]

p1 = panel([6.0, 9.5], MAG_MAJOR, mag_minor, ".1f", "Moment Magnitude",
           cols_df(MAG_COLS, MAG_TD_Y), cols_df(MAG_COLS, MAG_FD_Y), None,
           MAG_FIT_X, MAG_FIT_TD, MAG_FIT_FD,
           box_df([(7.545, 9.5, 1.91, 3.0), (7.545, 9.5, -3.0, -1.93)]),
           text_df([("TD", 8.52, 2.67), ("y = -0.030x + 0.220", 8.52, 2.24),
                    ("FD", 8.52, -2.25), ("y = -0.060x + 0.445", 8.52, -2.68)]),
           show_y=True)

p2 = panel([0, 150], DIST_MAJOR, dist_minor, "d", "Source-to-Site Hypocentral Distance (km)",
           pairs_df(DIST_TD),
           cols_df(DIST_FD_COLS, DIST_FD_Y), pairs_df(DIST_FD_EXTRA),
           DIST_FIT_X, DIST_FIT_TD, DIST_FIT_FD,
           box_df([(60.6, 150, 1.91, 3.0), (60.6, 150, -3.0, -1.93)]),
           text_df([("TD", 105.3, 2.67), ("y = -0.001x + 0.043", 105.3, 2.24),
                    ("FD", 105.3, -2.25), ("y = -0.001x + 0.068", 105.3, -2.68)]))

p3 = panel([0, 25], SF_MAJOR, sf_minor, "d", "Scaling Factor",
           pd.concat([cols_df(SF_TD_COLS, SF_TD_COL_Y), pairs_df(SF_TD)], ignore_index=True),
           cols_df(SF_FD_COLS, SF_FD_Y), pairs_df(SF_FD_EXTRA),
           SF_FIT_X, SF_FIT_TD, SF_FIT_FD,
           box_df([(11.1, 25, 1.91, 3.0), (11.66, 25, 0.71, 1.79), (0, 19.1, -3.0, -0.67)]),
           text_df([("TD", 18.05, 2.67), ("y = -0.006x + 0.010", 18.05, 2.24),
                    ("FD", 18.33, 1.48), ("y = 0.002x - 0.004", 18.33, 1.06)]),
           legend=True)

chart = alt.hconcat(p1, p2, p3, spacing=53, bounds="flush").properties(
    padding={"left": 10, "top": 5, "right": 5, "bottom": 5},
    background="white",
).configure_view(stroke="#333", strokeWidth=1)

chart.save("out.html", embed_options={"renderer": "svg", "actions": False})
